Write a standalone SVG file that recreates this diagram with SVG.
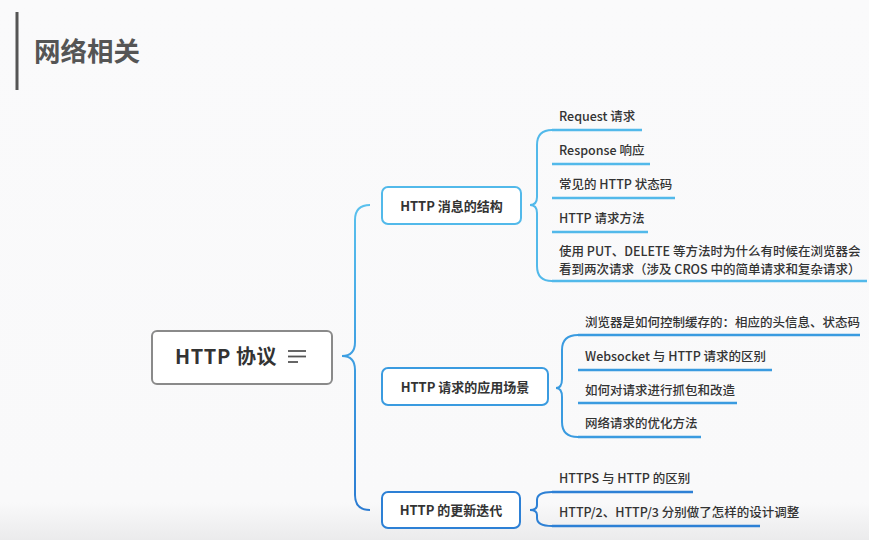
<svg xmlns="http://www.w3.org/2000/svg" width="869" height="540" viewBox="0 0 869 540">
<defs>
<linearGradient id="bg" x1="0" y1="0" x2="0" y2="1">
<stop offset="0" stop-color="#fafafb"/>
<stop offset="0.93" stop-color="#f9f9fa"/>
<stop offset="1" stop-color="#ebebec"/>
</linearGradient>
<linearGradient id="mainBr" gradientUnits="userSpaceOnUse" x1="0" y1="200" x2="0" y2="512">
<stop offset="0" stop-color="#5bc2ee"/>
<stop offset="0.5" stop-color="#3e9fe2"/>
<stop offset="1" stop-color="#2b7bd2"/>
</linearGradient>
<style>
.t{font-family:"Noto Sans CJK SC","Noto Sans",sans-serif;fill:#333;}
.leaf{font-size:12.5px;font-weight:500;}
.node{font-size:13px;font-weight:700;text-anchor:middle;}
.c1{stroke:#52b9ea;}
.c2{stroke:#3a9be0;}
.c3{stroke:#2d80d5;}
.ul{stroke-width:2.5;fill:none;}
.br{stroke-width:2;fill:none;}
.box{fill:#ffffff;stroke-width:2;}
</style>
</defs>
<rect x="0" y="0" width="869" height="540" fill="url(#bg)"/>
<g id="title">
<rect x="15.5" y="12" width="3" height="78" fill="#555"/>
<text class="t" x="34" y="61" font-size="26.5" font-weight="700" style="fill:#555">网络相关</text>
</g>
<g id="connectors">
<path class="br" stroke="url(#mainBr)" d="M370,205 Q355,205 355,220 L355,342 Q355,356 342,356 Q355,356 355,370 L355,495 Q355,510 370,510"/>
<path class="br c1" d="M552,130 Q537,130 537,145 L537,197 Q537,205 530,205 Q537,205 537,213 L537,266 Q537,281 552,281"/>
<path class="br c2" d="M578,335 Q562,335 562,350 L562,379 Q562,388 556,388 Q562,388 562,397 L562,422 Q562,437 578,437"/>
<path class="br c3" d="M552,492 Q537,492 537,500 L537,505 Q537,510 530,510 Q537,510 537,515 L537,518 Q537,526 552,526"/>
</g>
<g id="center">
<rect x="152" y="331" width="180" height="53" rx="5" fill="#fff" stroke="#8a8a8a" stroke-width="2"/>
<text class="t" x="175" y="364" font-size="20" font-weight="700" letter-spacing="0.6">HTTP 协议</text>
<g stroke="#555" stroke-width="1.8">
<line x1="288" y1="351" x2="306" y2="351"/>
<line x1="288" y1="356.5" x2="306" y2="356.5"/>
<line x1="288" y1="362" x2="298" y2="362"/>
</g>
</g>
<g id="n1">
<rect class="box c1" x="382" y="187" width="139" height="37" rx="6"/>
<text class="t node" x="451.5" y="210.5">HTTP 消息的结构</text>
</g>
<g id="n2">
<rect class="box c2" x="382" y="368" width="166" height="37" rx="6"/>
<text class="t node" x="465" y="391.5">HTTP 请求的应用场景</text>
</g>
<g id="n3">
<rect class="box c3" x="382" y="492" width="138" height="36" rx="6"/>
<text class="t node" x="451" y="515">HTTP 的更新迭代</text>
</g>
<g id="leaf1-1"><line class="ul c1" x1="552" y1="130" x2="642" y2="130"/><text class="t leaf" x="559" y="121">Request 请求</text></g>
<g id="leaf1-2"><line class="ul c1" x1="552" y1="164" x2="650" y2="164"/><text class="t leaf" x="559" y="155">Response 响应</text></g>
<g id="leaf1-3"><line class="ul c1" x1="552" y1="198" x2="675" y2="198"/><text class="t leaf" x="559" y="189">常见的 HTTP 状态码</text></g>
<g id="leaf1-4"><line class="ul c1" x1="552" y1="232" x2="648" y2="232"/><text class="t leaf" x="559" y="223">HTTP 请求方法</text></g>
<g id="leaf1-5"><line class="ul c1" x1="552" y1="281" x2="867" y2="281"/><text class="t leaf" x="559" y="256" font-size="12.2">使用 PUT、DELETE 等方法时为什么有时候在浏览器会</text><text class="t leaf" x="559" y="273.5" font-size="12.2">看到两次请求（涉及 CROS 中的简单请求和复杂请求）</text></g>
<g id="leaf2-1"><line class="ul c2" x1="578" y1="335" x2="860" y2="335"/><text class="t leaf" x="585" y="327">浏览器是如何控制缓存的：相应的头信息、状态码</text></g>
<g id="leaf2-2"><line class="ul c2" x1="578" y1="370" x2="772" y2="370"/><text class="t leaf" x="585" y="361">Websocket 与 HTTP 请求的区别</text></g>
<g id="leaf2-3"><line class="ul c2" x1="578" y1="403" x2="737" y2="403"/><text class="t leaf" x="585" y="395">如何对请求进行抓包和改造</text></g>
<g id="leaf2-4"><line class="ul c2" x1="578" y1="437" x2="701" y2="437"/><text class="t leaf" x="585" y="428">网络请求的优化方法</text></g>
<g id="leaf3-1"><line class="ul c3" x1="552" y1="492" x2="693" y2="492"/><text class="t leaf" x="559" y="483">HTTPS 与 HTTP 的区别</text></g>
<g id="leaf3-2"><line class="ul c3" x1="552" y1="526" x2="760" y2="526"/><text class="t leaf" x="559" y="517">HTTP/2、HTTP/3 分别做了怎样的设计调整</text></g>
</svg>
